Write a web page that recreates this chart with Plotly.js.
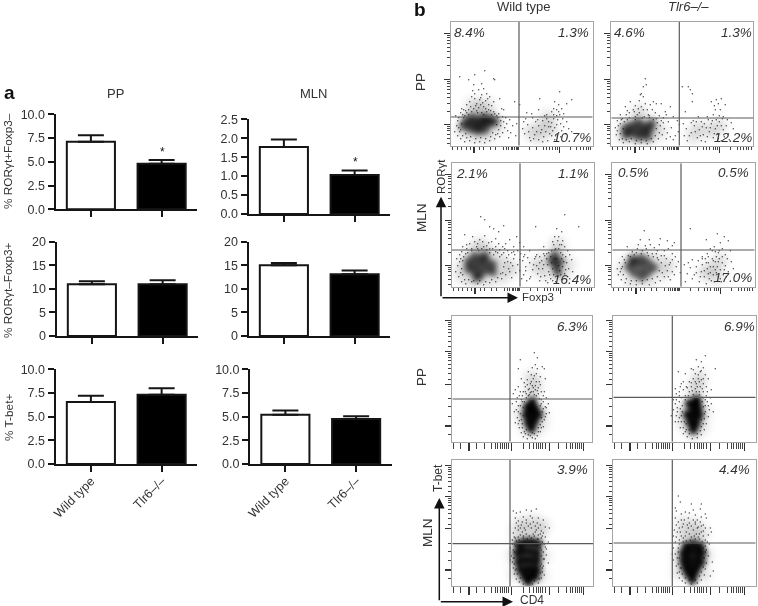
<!DOCTYPE html>
<html><head><meta charset="utf-8">
<script src="https://cdn.plot.ly/plotly-3.0.1.min.js"></script>
<style>html,body{margin:0;padding:0;background:#fff}#c{width:758px;height:606px;filter:blur(.4px)}</style>
</head><body><div id="c"></div><script>
// ---- bar data
const genotypes=['Wild type','Tlr6–/–'];
const ppRorFoxNeg=[7.1,4.8], ppRorFoxNegErr=[0.7,0.4];
const mlnRorFoxNeg=[1.77,1.03], mlnRorFoxNegErr=[0.2,0.12];
const ppRorFoxPos=[11,11], ppRorFoxPosErr=[0.6,0.8];
const mlnRorFoxPos=[15,13.1], mlnRorFoxPosErr=[0.5,0.8];
const ppTbet=[6.55,7.3], ppTbetErr=[0.65,0.7];
const mlnTbet=[5.2,4.75], mlnTbetErr=[0.45,0.3];

// ---- flow data, in channel units [x,y]
const wtPpRorHaze=[[18,26],[30,30],[42,28],[12,15],[24,10],[36,10],[46,18],[28,38],[36,40],[22,40],[92,20],[100,16],[88,10],[80,14],[98,28]];
const wtPpRorCore=[[16,25],[22,22],[22,28],[28,25],[28,19],[33,23],[33,28],[38,22],[39,27],[27,15],[34,16],[20,17],[44,24],[13,20]];
const wtPpRorDots=[[9,69],[18,66],[24,71],[34,75],[43,67],[44,66],[31,62],[33,57],[23,61],[28,56],[24,52],[31,51],[21,49],[36,52],[39,49],[43,44],[19,44],[16,41],[26,42],[29,46],[35,45],[49,47],[51,37],[53,36],[11,37],[13,36],[18,36],[23,37],[28,38],[33,39],[38,36],[43,34],[48,32],[64,44],[69,41],[5,30],[8,28],[6,20],[4,14],[7,10],[10,7],[14,4],[19,5],[24,3],[29,4],[34,3],[39,5],[44,7],[49,9],[52,13],[54,18],[53,24],[55,28],[50,20],[47,12],[9,14],[12,31],[16,33],[21,34],[26,35],[31,33],[36,34],[41,31],[46,30],[59,26],[62,20],[66,22],[60,13],[65,10],[89,47],[109,54],[121,46],[116,42],[104,44],[108,41],[103,37],[101,34],[106,36],[111,37],[76,33],[81,32],[88,36],[96,31],[103,31],[109,31],[113,32],[73,24],[77,21],[72,17],[78,14],[82,18],[85,24],[88,20],[91,16],[84,11],[79,8],[88,6],[93,9],[95,14],[98,19],[101,23],[104,18],[107,26],[110,22],[113,19],[116,24],[108,13],[101,10],[97,5],[104,6],[110,9],[118,17],[121,14],[92,25],[96,27],[103,27],[112,27],[86,14],[75,27],[82,28]];
const wtPpRorFine=[[7,25],[10,33],[13,28],[15,35],[8,18],[11,22],[12,10],[16,8],[20,9],[25,7],[30,8],[35,7],[40,9],[45,11],[48,16],[50,25],[47,28],[44,32],[40,35],[35,37],[30,41],[25,40],[20,39],[24,47],[32,43],[38,41],[27,33],[33,31],[18,31],[42,13],[15,12],[52,29],[56,22],[57,15],[58,8],[14,30],[46,21],[10,16],[37,47],[30,48],[22,55],[41,40],[74,12],[80,5],[90,13],[94,20],[99,12],[106,21],[102,15],[111,15],[105,10],[98,24],[94,30],[108,34],[100,19],[106,30],[115,12],[87,26],[83,7],[92,4]];

const koPpRorHaze=[[16,22],[30,24],[42,22],[12,10],[24,7],[38,8],[48,14],[28,34],[88,18],[100,14],[108,20],[82,10]];
const koPpRorCore=[[14,17],[20,13],[20,20],[26,16],[27,23],[32,13],[33,19],[38,16],[27,9],[40,22],[36,9],[15,11]];
const koPpRorDots=[[34,67],[35,61],[32,59],[30,52],[32,49],[29,51],[19,44],[14,39],[27,37],[32,36],[39,41],[42,44],[45,42],[50,42],[54,34],[59,39],[55,31],[22,36],[9,31],[15,31],[26,31],[37,31],[44,33],[48,30],[62,29],[66,25],[6,25],[4,18],[5,11],[8,6],[12,3],[18,4],[24,2],[30,3],[36,2],[42,4],[47,7],[51,11],[53,17],[52,23],[56,13],[60,18],[64,10],[62,6],[9,22],[11,27],[18,28],[24,29],[31,28],[38,28],[45,27],[50,25],[68,21],[67,14],[71,59],[77,59],[79,56],[81,52],[81,44],[74,34],[105,46],[110,47],[107,42],[100,44],[104,36],[109,36],[114,41],[102,31],[96,29],[112,29],[87,29],[72,22],[75,17],[73,10],[76,5],[80,13],[83,20],[86,8],[88,16],[90,24],[92,11],[94,4],[95,18],[98,14],[100,22],[102,8],[104,17],[106,12],[108,24],[110,5],[112,16],[115,20],[117,12],[120,23],[122,17],[97,26],[105,26],[90,5],[82,25],[118,6],[111,27]];
const koPpRorFine=[[7,20],[10,26],[13,24],[16,26],[6,15],[9,12],[11,7],[15,6],[20,7],[25,5],[30,6],[35,5],[40,7],[44,10],[48,13],[49,20],[46,23],[42,26],[38,30],[33,29],[28,33],[23,34],[18,33],[34,42],[30,39],[36,36],[24,26],[12,17],[45,17],[52,28],[57,24],[59,9],[55,7],[16,35],[41,36],[28,45],[24,40],[78,10],[84,14],[89,10],[93,22],[99,18],[103,12],[106,20],[107,7],[101,25],[110,20],[113,9],[96,9],[91,19],[108,30],[103,40],[85,24],[116,26],[80,23]];

const wtMlnRorHaze=[[12,22],[20,34],[32,36],[44,32],[52,22],[50,10],[36,6],[20,6],[10,12],[60,18],[28,42],[84,20],[94,14],[110,12],[106,34],[92,26],[106,42],[116,22]];
const wtMlnRorCore=[[17,25],[17,18],[23,30],[23,22],[23,15],[29,27],[29,20],[29,12],[35,25],[35,17],[41,22],[41,15],[33,31],[25,9],[100,26],[104,21],[108,25],[106,15],[103,31]];
const wtMlnRorDots=[[29,70],[33,67],[38,60],[42,58],[52,61],[47,55],[13,52],[21,50],[33,51],[44,48],[28,47],[23,45],[18,43],[37,44],[47,43],[58,47],[65,50],[62,40],[51,40],[68,44],[72,40],[56,36],[11,40],[15,38],[25,40],[30,38],[35,37],[41,38],[48,37],[53,38],[60,34],[66,36],[69,33],[16,34],[5,28],[8,32],[6,21],[4,15],[7,10],[10,5],[14,3],[20,5],[26,3],[32,2],[38,4],[44,5],[50,8],[54,12],[57,18],[59,24],[55,29],[50,32],[62,28],[66,22],[64,14],[60,9],[68,16],[70,8],[68,27],[11,12],[11,26],[10,35],[52,20],[49,13],[46,34],[20,36],[27,36],[38,34],[42,32],[84,60],[113,72],[127,60],[105,58],[110,55],[107,50],[111,46],[101,45],[108,42],[113,40],[104,38],[116,36],[100,36],[95,33],[118,32],[109,34],[92,40],[78,36],[85,32],[73,32],[71,26],[74,20],[72,12],[75,6],[78,24],[81,17],[79,10],[83,28],[85,21],[86,13],[88,6],[90,26],[91,18],[93,11],[95,28],[96,22],[97,15],[99,8],[101,18],[102,12],[103,28],[104,5],[106,10],[108,16],[110,28],[111,20],[113,13],[115,24],[117,18],[118,8],[120,27],[121,15],[110,7],[96,4],[88,30],[76,29],[100,24],[107,21],[93,31],[114,30]];
const wtMlnRorFine=[[8,25],[10,18],[9,14],[13,7],[17,7],[22,6],[28,6],[34,5],[40,7],[46,9],[51,14],[53,24],[48,30],[44,35],[38,38],[32,40],[26,38],[20,38],[14,33],[12,30],[9,28],[56,25],[58,15],[61,21],[63,32],[57,32],[52,34],[15,42],[26,43],[35,41],[44,40],[40,45],[31,45],[54,43],[62,35],[72,30],[74,16],[78,8],[82,22],[84,30],[87,18],[89,10],[92,22],[94,6],[98,12],[99,30],[101,6],[103,37],[105,28],[107,38],[109,12],[111,32],[112,25],[114,17],[116,10],[97,34],[102,42],[106,46],[110,42],[103,50],[92,33],[88,24]];

const koMlnRorHaze=[[12,18],[20,28],[32,30],[44,26],[50,14],[36,6],[20,5],[56,22],[100,18],[108,26],[92,14],[104,10]];
const koMlnRorCore=[[17,20],[22,14],[23,24],[29,19],[29,10],[35,24],[35,14],[41,19],[29,28],[20,27]];
const koMlnRorDots=[[32,56],[28,47],[48,48],[55,46],[37,47],[15,40],[20,35],[38,42],[47,42],[62,44],[56,38],[60,41],[52,36],[25,38],[34,38],[45,36],[40,33],[29,33],[22,32],[16,31],[60,33],[10,30],[7,24],[5,18],[6,12],[9,7],[13,4],[18,3],[24,2],[30,3],[37,2],[43,4],[48,6],[52,10],[55,16],[57,22],[54,28],[49,31],[60,27],[64,20],[62,12],[58,7],[66,25],[12,27],[45,29],[36,31],[10,20],[50,14],[53,21],[68,14],[78,58],[94,47],[105,53],[112,50],[116,46],[108,44],[102,40],[110,38],[118,36],[100,36],[95,33],[106,34],[113,32],[90,30],[73,5],[75,13],[72,22],[78,19],[80,27],[82,12],[84,20],[86,26],[87,5],[89,15],[90,22],[92,10],[93,28],[95,18],[96,24],[97,8],[98,14],[100,28],[101,20],[102,5],[103,25],[104,14],[105,20],[106,10],[107,28],[108,17],[110,24],[111,12],[113,21],[115,28],[116,15],[119,25],[121,18],[98,20],[94,3],[109,5]];
const koMlnRorFine=[[9,18],[11,12],[14,8],[19,6],[24,6],[30,6],[35,7],[40,8],[45,10],[47,16],[49,24],[46,27],[41,30],[35,34],[30,36],[24,34],[18,30],[13,24],[8,15],[56,10],[60,15],[58,24],[63,30],[52,31],[44,33],[33,41],[26,42],[42,39],[76,24],[80,8],[84,14],[90,28],[92,16],[94,24],[96,13],[99,6],[101,12],[103,17],[104,30],[106,25],[108,8],[110,30],[112,17],[107,36],[103,35],[98,38],[96,30],[101,26],[114,10],[88,10]];

const wtPpTbetHaze=[[70,30],[88,30],[79,48],[80,10],[72,18],[88,18],[83,56],[79,64]];
const wtPpTbetCore=[[75,35],[80,40],[83,33],[74,27],[80,27],[86,27],[76,19],[82,20],[79,13],[79,34]];
const wtPpTbetDots=[[82,89],[85,84],[68,82],[66,73],[83,77],[80,74],[85,73],[90,75],[92,73],[76,70],[79,67],[84,68],[88,65],[75,62],[78,58],[81,63],[84,60],[69,63],[73,55],[93,63],[88,57],[66,55],[63,52],[61,48],[71,50],[83,52],[89,50],[76,52],[80,56],[86,54],[77,47],[82,47],[86,48],[91,46],[70,46],[67,46],[74,48],[79,50],[94,44],[64,40],[66,36],[62,30],[65,24],[63,19],[67,14],[69,9],[71,5],[75,3],[80,4],[85,6],[88,10],[91,15],[92,22],[94,28],[93,35],[96,38],[91,40],[69,42],[68,28],[70,18],[72,40],[89,24],[88,36],[90,30],[76,7],[83,3],[67,21],[60,38],[97,29],[74,12],[86,14],[65,44],[89,42]];
const wtPpTbetFine=[[66,30],[68,36],[69,22],[70,14],[72,10],[74,44],[76,46],[78,49],[81,50],[84,46],[87,43],[89,38],[91,33],[90,20],[88,17],[86,10],[82,8],[78,6],[71,34],[71,26],[70,40],[73,50],[77,53],[81,54],[85,51],[83,56],[79,60],[82,66],[87,60],[75,57],[72,59],[92,50],[68,50],[94,34],[64,32],[66,18],[93,25],[89,14],[73,8],[80,9]];

const koPpTbetHaze=[[70,30],[90,30],[80,48],[84,56],[72,18],[88,16],[80,8],[86,64]];
const koPpTbetCore=[[76,38],[83,42],[80,33],[85,33],[74,27],[80,26],[86,26],[77,19],[83,18],[80,12],[84,40]];
const koPpTbetDots=[[92,86],[83,82],[88,80],[102,73],[78,73],[85,75],[90,74],[65,70],[72,68],[82,68],[87,70],[92,67],[95,63],[80,63],[85,63],[88,62],[90,58],[83,58],[68,58],[67,55],[73,55],[78,55],[87,55],[93,55],[98,52],[70,52],[62,53],[63,48],[83,50],[90,50],[76,50],[80,47],[86,47],[93,46],[97,44],[72,46],[66,46],[60,42],[62,38],[60,32],[63,26],[65,20],[67,14],[70,8],[74,5],[79,3],[84,4],[88,7],[91,12],[93,18],[95,25],[96,32],[98,38],[92,42],[66,40],[69,30],[71,20],[90,35],[91,28],[64,34],[68,44],[100,30],[73,12],[88,15],[58,26],[62,20],[94,40],[76,8]];
const koPpTbetFine=[[64,30],[66,24],[68,20],[70,14],[72,10],[76,12],[84,8],[87,11],[90,18],[91,23],[92,30],[92,36],[89,40],[90,44],[86,50],[82,53],[79,51],[75,46],[72,42],[69,36],[67,33],[68,26],[74,54],[78,59],[84,55],[86,60],[89,53],[82,60],[85,67],[88,71],[76,60],[94,50],[95,36],[63,42],[70,60],[66,50],[80,72],[90,63],[73,18],[88,22]];

const wtMlnTbetHaze=[[65,52],[75,54],[86,52],[68,62],[80,64],[90,60],[62,30],[90,30],[64,12],[88,10]];
const wtMlnTbetCore=[[66,42],[73,44],[80,44],[86,42],[65,33],[71,35],[78,35],[85,33],[66,24],[72,26],[78,26],[85,25],[68,16],[74,17],[80,17],[85,16],[72,9],[78,9],[83,9],[76,4]];
const wtMlnTbetDots=[[61,75],[64,73],[68,74],[74,76],[79,75],[84,77],[63,68],[71,69],[78,70],[86,68],[91,66],[64,63],[69,61],[74,63],[81,64],[88,61],[93,59],[63,58],[66,56],[73,56],[79,58],[84,56],[89,55],[61,53],[68,51],[74,52],[86,51],[93,49],[63,48],[71,48],[79,48],[89,48],[97,58],[66,65],[83,60],[76,60],[70,54],[81,52],[91,53],[67,46],[75,47],[85,47],[60,42],[61,36],[59,30],[60,24],[61,18],[62,12],[64,7],[67,4],[71,2],[80,2],[86,3],[89,8],[90,14],[91,20],[92,27],[91,34],[93,39],[90,44],[96,44],[94,31],[96,23],[92,11],[58,38],[58,26],[63,40],[62,28],[88,38],[89,22]];
const wtMlnTbetFine=[[62,42],[62,34],[61,28],[62,22],[63,16],[65,12],[68,8],[74,5],[82,5],[87,7],[88,13],[88,20],[89,30],[89,36],[88,42],[86,47],[82,50],[77,50],[71,50],[66,49],[62,49],[64,45],[83,54],[72,58],[68,58],[78,62],[85,63],[90,50],[66,60],[74,66],[80,68],[70,64],[88,52],[92,42],[94,37],[60,46],[91,27],[64,17],[90,18],[86,58]];

const koMlnTbetHaze=[[66,30],[92,30],[70,50],[80,50],[88,52],[66,14],[90,12],[82,60],[70,62]];
const koMlnTbetCore=[[73,40],[80,42],[87,40],[70,33],[76,34],[83,34],[89,33],[70,25],[76,26],[83,26],[88,24],[72,18],[78,18],[84,18],[75,12],[81,12],[79,6]];
const koMlnTbetDots=[[65,90],[67,84],[62,78],[63,75],[68,72],[78,82],[88,82],[80,76],[87,77],[72,74],[76,73],[92,72],[62,68],[65,64],[71,66],[75,68],[82,71],[88,69],[93,68],[63,61],[69,59],[76,63],[82,64],[87,64],[90,61],[97,58],[61,56],[67,54],[73,54],[80,56],[85,59],[88,54],[95,51],[63,49],[70,48],[78,49],[85,49],[98,54],[75,58],[83,52],[90,50],[92,46],[66,46],[73,45],[62,44],[60,38],[62,32],[60,26],[63,20],[66,14],[66,8],[69,5],[72,3],[78,2],[84,3],[88,6],[91,11],[92,17],[93,23],[95,30],[93,36],[96,42],[99,24],[100,15],[97,10],[65,38],[66,28],[68,18],[92,40],[59,32],[64,13],[90,28]];
const koMlnTbetFine=[[66,42],[65,34],[64,28],[65,22],[67,18],[69,12],[72,8],[76,6],[82,6],[86,10],[88,14],[90,19],[91,28],[92,34],[90,38],[89,44],[86,47],[82,47],[77,46],[70,44],[68,50],[72,50],[76,52],[81,50],[86,52],[90,55],[84,58],[78,60],[80,66],[74,61],[70,62],[66,58],[82,62],[88,60],[84,66],[92,58],[64,54],[60,50],[68,66],[94,44]];

// ---- flow axis ticks and gates
const rorXMajor=[23.2,23.6,24,108.6];
const rorXMinor=[1.6,6.6,11,16,19.3,28.3,32.6,39.3,44.3,52.6,56,58,60.3,62,63.6,65.3,66.6,67.6,78.6,86,92.6,95.3,98.6,102,104.3,106.6,119.3,126,129.3,132.6,135.3,137.6,140];
const rorYMajor=[112.4,66.4,21.7,21.2];
const rorYMinor=[110,108,105,102,98,94,88,80,64,62,59,56,52,48,42,34,19.5,17,15,11,7,2];
const cd4XMajor=[15.8,16.3,16.8,59,97,131];
const cd4XMinor=[1,7.7,24,32,39,43,45.5,48,50,52,54,56,71,77,81,84,86,88,90,93,106,114,118,120,123,125,127,129];
const tbetYMajor=[121,90,57.7,15.6,16,16.4];
const tbetYMinor=[119,117,115,112,109,105,100,95,88,86,84,81,77,73,68,62,43,35,25.7,7.4];

const W=758,H=606;
const fy=v=>1-v/H, fx=v=>v/W;
const ink='#151515', textInk='#333';
const FONT='"Liberation Sans", Arial, sans-serif';
const data=[], shapes=[], annotations=[], layout={};

// bars: [values, errors, left, right, top, bottom, dtick, fmt, max, showLabels]
const barPanels=[
 [ppRorFoxNeg,ppRorFoxNegErr,55.5,197,114.3,209.3,2.5,'.1f',10,false],
 [mlnRorFoxNeg,mlnRorFoxNegErr,248.5,390,119.3,214,0.5,'.1f',2.5,false],
 [ppRorFoxPos,ppRorFoxPosErr,56.5,198,241.7,336,5,'d',20,false],
 [mlnRorFoxPos,mlnRorFoxPosErr,248.5,390,241.7,336,5,'d',20,false],
 [ppTbet,ppTbetErr,55.5,197,369.3,464,2.5,'.1f',10,true],
 [mlnTbet,mlnTbetErr,250,391.5,369.3,464,2.5,'.1f',10,true]
];
let n=0;
barPanels.forEach(p=>{
 n++; const id=n===1?'':n, xa='xaxis'+id, ya='yaxis'+id;
 data.push({type:'bar',x:genotypes,y:p[0],xaxis:'x'+id,yaxis:'y'+id,width:0.68,
  marker:{color:['#fff','#000'],line:{color:ink,width:2}},
  error_y:{type:'data',symmetric:false,array:p[1],arrayminus:p[1].map(()=>0),color:ink,thickness:2,width:13},
  hoverinfo:'skip',showlegend:false});
 layout[xa]={domain:[fx(p[2]),fx(p[3])],anchor:'y'+id,type:'category',range:[-0.5,1.5],showgrid:false,zeroline:false,
  showline:true,linecolor:ink,linewidth:2,ticks:'outside',ticklen:6,tickwidth:2,tickcolor:ink,
  showticklabels:p[9],tickangle:-45,ticklabelstandoff:-3,tickfont:{family:FONT,size:12.5,color:textInk},fixedrange:true};
 layout[ya]={domain:[fy(p[5]),fy(p[4])],anchor:'x'+id,range:[0,p[8]],dtick:p[6],tick0:0,tickformat:p[7],showgrid:false,zeroline:false,
  showline:true,linecolor:ink,linewidth:2,ticks:'outside',ticklen:6,tickwidth:2,tickcolor:ink,
  tickfont:{family:FONT,size:12.5,color:textInk},fixedrange:true};
});

// flow panels
const flowPanels=[
 {h:wtPpRorHaze,c:wtPpRorCore,d:wtPpRorDots,f:wtPpRorFine,l:450.7,w:142,t:21.7,ht:124,gx:68.3,gy:28.7,tx:'r',lab:[['8.4%',469,32.7],['1.3%',573.3,32.7],['10.7%',572.3,137.3]]},
 {h:koPpRorHaze,c:koPpRorCore,d:koPpRorDots,f:koPpRorFine,l:611.3,w:142,t:21.7,ht:124,gx:68,gy:27.7,tx:'r',lab:[['4.6%',629,32.7],['1.3%',736.7,32.7],['12.2%',733.3,137.3]]},
 {h:wtMlnRorHaze,c:wtMlnRorCore,d:wtMlnRorDots,f:wtMlnRorFine,l:451.7,w:142.3,t:163.3,ht:123.4,gx:68.3,gy:36.7,tx:'r',lab:[['2.1%',472.3,173.7],['1.1%',573.3,173.7],['16.4%',572.3,279.3]]},
 {h:koMlnRorHaze,c:koMlnRorCore,d:koMlnRorDots,f:koMlnRorFine,l:612.3,w:142.4,t:163.3,ht:123.4,gx:68.7,gy:36.7,tx:'r',lab:[['0.5%',633.3,172.7],['0.5%',733.3,172.7],['17.0%',733.3,277.7]]},
 {h:wtPpTbetHaze,c:wtPpTbetCore,d:wtPpTbetDots,f:wtPpTbetFine,l:452.3,w:140,t:315.7,ht:126,gx:57.7,gy:42.7,tx:'t',lab:[['6.3%',572.7,326.7]]},
 {h:koPpTbetHaze,c:koPpTbetCore,d:koPpTbetDots,f:koPpTbetFine,l:613.3,w:142.4,t:315.7,ht:126,gx:59,gy:44.4,tx:'t',lab:[['6.9%',739,326]]},
 {h:wtMlnTbetHaze,c:wtMlnTbetCore,d:wtMlnTbetDots,f:wtMlnTbetFine,l:452.3,w:141,t:460,ht:126,gx:57.7,gy:42.3,tx:'t',lab:[['3.9%',572.7,470]]},
 {h:koMlnTbetHaze,c:koMlnTbetCore,d:koMlnTbetDots,f:koMlnTbetFine,l:613.3,w:142.4,t:460,ht:126,gx:59,gy:43,tx:'t',lab:[['4.4%',734,470]]}
];
function minorAxis(vals,len){return {tickmode:'array',tickvals:vals,ticks:'outside',ticklen:len,tickwidth:1,tickcolor:'#444',showgrid:false};}
flowPanels.forEach(p=>{
 n++; const id=n, xr='x'+id, yr='y'+id, ror=p.tx==='r';
 const all=p.d.concat(p.f);
 data.push({type:'scatter',mode:'markers',x:p.h.map(q=>q[0]),y:p.h.map(q=>q[1]),xaxis:xr,yaxis:yr,
  marker:{size:15,color:'#000',opacity:0.13,line:{width:0}},hoverinfo:'skip',showlegend:false});
 data.push({type:'scatter',mode:'markers',x:p.c.map(q=>q[0]),y:p.c.map(q=>q[1]),xaxis:xr,yaxis:yr,
  marker:{size:ror?10:9.5,color:'#000',opacity:ror?0.6:0.95,line:{width:0}},hoverinfo:'skip',showlegend:false});
 data.push({type:'scatter',mode:'markers',x:all.map(q=>q[0]),y:all.map(q=>q[1]),xaxis:xr,yaxis:yr,
  marker:{size:1.5,color:'#111',opacity:0.75,line:{width:0}},hoverinfo:'skip',showlegend:false});
 layout['xaxis'+id]={domain:[fx(p.l),fx(p.l+p.w)],anchor:yr,range:[0,p.w],showgrid:false,zeroline:false,showline:true,mirror:true,
  linecolor:'#a5a5a5',linewidth:1,showticklabels:false,ticks:'outside',tickmode:'array',
  tickvals:ror?rorXMajor:cd4XMajor,ticklen:ror?6:8,tickwidth:1,tickcolor:'#333',
  minor:minorAxis(ror?rorXMinor:cd4XMinor,ror?3:6),fixedrange:true};
 layout['yaxis'+id]={domain:[fy(p.t+p.ht),fy(p.t)],anchor:xr,range:[0,p.ht],showgrid:false,zeroline:false,showline:true,mirror:true,
  linecolor:'#a5a5a5',linewidth:1,showticklabels:false,ticks:'outside',tickmode:'array',
  tickvals:ror?rorYMajor:tbetYMajor,ticklen:6,tickwidth:1,tickcolor:'#333',
  minor:minorAxis(ror?rorYMinor:tbetYMinor,3),fixedrange:true};
 shapes.push({type:'line',xref:xr,yref:yr,x0:p.gx,x1:p.gx,y0:0,y1:p.ht,line:{color:'#5a5a5a',width:1.2},layer:'above'});
 shapes.push({type:'line',xref:xr,yref:yr,x0:0,x1:p.w,y0:p.gy,y1:p.gy,line:{color:'#5a5a5a',width:1.2},layer:'above'});
 p.lab.forEach(a=>annotations.push(txt(a[0],a[1],a[2],{size:13.5,italic:true})));
});

function txt(t,x,y,o){o=o||{};
 return {text:o.italic?'<i>'+t+'</i>':(o.bold?'<b>'+t+'</b>':t),xref:'paper',yref:'paper',x:x/W,y:1-y/H,xanchor:'center',yanchor:'middle',
  showarrow:false,textangle:o.rot?-90:0,font:{family:FONT,size:o.size||11.5,color:o.color||textInk}};}
function arrow(x0,y0,x1,y1){return {text:'',xref:'paper',yref:'paper',x:x1/W,y:1-y1/H,axref:'pixel',ayref:'pixel',ax:x0-x1,ay:y0-y1,
  showarrow:true,arrowhead:2,arrowsize:1.4,arrowwidth:1.5,arrowcolor:'#111'};}

[
 txt('a',9,92,{bold:true,size:19,color:'#111'}),
 txt('b',420,10,{bold:true,size:19,color:'#111'}),
 txt('PP',115,93,{size:13}),txt('MLN',313,93,{size:13}),
 txt('% RORγt+Foxp3–',8,161,{rot:true,size:11.8}),
 txt('% RORγt–Foxp3+',8,290,{rot:true,size:11.8}),
 txt('% T-bet+',9,418,{rot:true,size:11.8}),
 txt('Wild type',523,7,{size:13}),txt('Tlr6–/–',688,7,{size:13,italic:true}),
 txt('PP',421,82,{rot:true,size:13.5}),txt('MLN',421,218,{rot:true,size:13.5}),
 txt('PP',421,377,{rot:true,size:13.5}),txt('MLN',427,533,{rot:true,size:13.5}),
 txt('RORγt',441,177,{rot:true,size:11.5}),txt('Foxp3',538,297,{size:11.5}),
 txt('T-bet',438,478,{rot:true,size:12}),txt('CD4',532,600,{size:12}),
 txt('*',162,152,{size:12,color:'#111'}),txt('*',355,162,{size:12,color:'#111'}),
 arrow(441,297.7,441,196.7),arrow(441,297.7,518,297.7),
 arrow(439.3,601.7,439.3,498),arrow(439.3,601.7,513,601.7)
].forEach(a=>annotations.push(a));

Object.assign(layout,{width:W,height:H,margin:{l:0,r:0,t:0,b:0},paper_bgcolor:'#fff',plot_bgcolor:'rgba(0,0,0,0)',showlegend:false,shapes,annotations,barmode:'group'});
Plotly.newPlot('c',data,layout,{displayModeBar:false,staticPlot:true}).then(()=>{
 // soften the density layers (haze, core) of each flow panel; the dot layer stays sharp
 document.querySelectorAll('.scatterlayer .trace').forEach((g,i)=>{ if(i%3===0) g.style.filter='blur(4px)'; if(i%3===1) g.style.filter='blur(2.5px)'; });
});
</script></body></html>
